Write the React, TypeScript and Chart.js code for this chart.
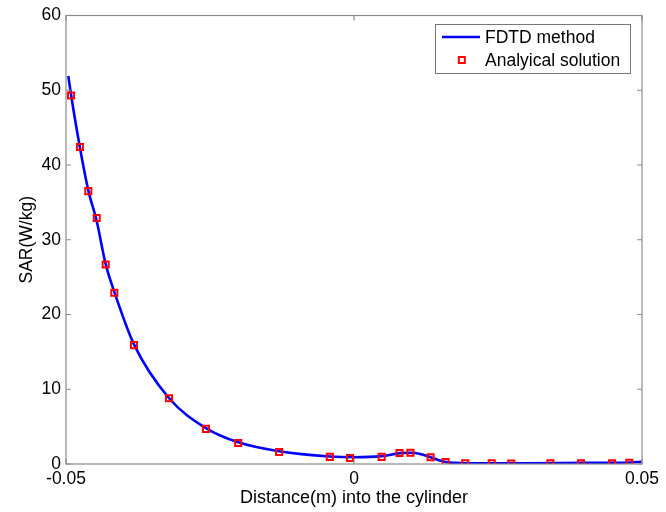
import React, { useEffect, useRef } from 'react';
import { Chart, registerables } from 'chart.js';

Chart.register(...registerables);

// FDTD curve
const fdtdX = [-0.0496, -0.0491, -0.0476, -0.0461, -0.0447, -0.0431, -0.0416, -0.0382, -0.0321, -0.0257, -0.0201, -0.013, -0.0042, 0.0, 0.0048, 0.008, 0.0098, 0.0115, 0.0133, 0.016, 0.0195, 0.024, 0.03, 0.04, 0.048, 0.05];
const fdtdY = [51.9, 49.3, 42.4, 36.5, 32.6, 26.7, 23.0, 16.0, 8.8, 4.8, 2.9, 1.7, 1.0, 0.9, 1.05, 1.45, 1.5, 1.35, 0.9, 0.25, 0.1, 0.1, 0.1, 0.15, 0.2, 0.3];

// Analytical solution markers
const anaX = [-0.04913, -0.04757, -0.04613, -0.04467, -0.04311, -0.04161, -0.0382, -0.03212, -0.0257, -0.0201, -0.013, -0.0042, -0.0007, 0.0048, 0.0079, 0.0098, 0.0133, 0.0159, 0.0193, 0.0239, 0.0273, 0.0341, 0.0394, 0.0448, 0.0478];
const anaY = [49.3, 42.4, 36.5, 32.9, 26.7, 22.9, 15.9, 8.8, 4.7, 2.8, 1.6, 0.95, 0.8, 0.95, 1.47, 1.5, 0.9, 0.27, 0.08, 0.1, 0.05, 0.08, 0.1, 0.1, 0.15];

const xTicks = [-0.05, 0, 0.05];
const yTicks = [0, 10, 20, 30, 40, 50, 60];
const seriesNames = ['FDTD method', 'Analyical solution'];
const xTitle = 'Distance(m) into the cylinder';
const yTitle = 'SAR(W/kg)';

const FONT = '"Liberation Sans", Arial, Helvetica, sans-serif';
const TEXT = '#000000';
const AXIS = '#8c8c8c';

const framePlugin = {
  id: 'matlabFrame',
  afterDatasetsDraw(chart: any) {
    const { ctx, chartArea } = chart;
    const { left, right, top, bottom } = chartArea;
    const xs = chart.scales.x;
    const ys = chart.scales.y;
    ctx.save();
    ctx.strokeStyle = AXIS;
    ctx.lineWidth = 1.2;
    ctx.strokeRect(left, top, right - left, bottom - top);
    ctx.beginPath();
    const tl = 5;
    yTicks.forEach((v) => {
      const y = ys.getPixelForValue(v);
      ctx.moveTo(left, y);
      ctx.lineTo(left + tl, y);
      ctx.moveTo(right, y);
      ctx.lineTo(right - tl, y);
    });
    xTicks.forEach((v) => {
      const x = xs.getPixelForValue(v);
      ctx.moveTo(x, bottom);
      ctx.lineTo(x, bottom - tl);
      ctx.moveTo(x, top);
      ctx.lineTo(x, top + tl);
    });
    ctx.stroke();
    ctx.restore();
  },
  afterDraw(chart: any) {
    const { ctx } = chart;
    const bx = 435, by = 24, bw = 195, bh = 49;
    ctx.save();
    ctx.fillStyle = '#ffffff';
    ctx.fillRect(bx, by, bw, bh);
    ctx.strokeStyle = '#777777';
    ctx.lineWidth = 1;
    ctx.strokeRect(bx + 0.5, by + 0.5, bw, bh);
    // line sample
    ctx.strokeStyle = '#0000ff';
    ctx.lineWidth = 2.6;
    ctx.beginPath();
    ctx.moveTo(442, 37);
    ctx.lineTo(480, 37);
    ctx.stroke();
    // marker sample
    ctx.strokeStyle = '#ff0000';
    ctx.lineWidth = 2;
    ctx.strokeRect(458.8, 57, 6, 6);
    ctx.fillStyle = TEXT;
    ctx.font = `17.5px ${FONT}`;
    ctx.textBaseline = 'middle';
    ctx.textAlign = 'left';
    ctx.fillText(seriesNames[0], 485, 38);
    ctx.fillText(seriesNames[1], 485, 61);
    ctx.restore();
  },
};

export default function App() {
  const ref = useRef<HTMLCanvasElement>(null);
  useEffect(() => {
    document.body.style.margin = '0';
    const canvas = ref.current;
    if (!canvas) return;
    const chart = new Chart(canvas, {
      type: 'scatter',
      data: {
        datasets: [
          {
            label: seriesNames[1],
            data: anaX.map((x, i) => ({ x, y: anaY[i] })),
            showLine: false,
            pointStyle: 'rect',
            pointRadius: 4.3,
            pointBorderWidth: 2,
            pointBorderColor: '#ff0000',
            pointBackgroundColor: 'rgba(255,255,255,0)',
            order: 0,
          },
          {
            label: seriesNames[0],
            data: fdtdX.map((x, i) => ({ x, y: fdtdY[i] })),
            showLine: true,
            borderColor: '#0000ff',
            borderWidth: 2.6,
            pointRadius: 0,
            cubicInterpolationMode: 'monotone',
            order: 1,
          } as any,
        ],
      },
      options: {
        animation: false,
        responsive: false,
        events: [],
        layout: { padding: { top: 15, right: 24, left: 0, bottom: 0 } },
        plugins: { legend: { display: false }, tooltip: { enabled: false } },
        scales: {
          x: {
            type: 'linear',
            min: -0.05,
            max: 0.05,
            afterBuildTicks: (s: any) => { s.ticks = xTicks.map((v) => ({ value: v })); },
            afterFit: (s: any) => { s.height = 48; },
            grid: { display: false, drawTicks: false },
            border: { display: false },
            ticks: {
              color: TEXT,
              font: { family: FONT, size: 17.5 },
              padding: 5,
              maxRotation: 0,
              callback: (v: any) => String(v),
            },
            title: {
              display: true,
              text: xTitle,
              color: TEXT,
              font: { family: FONT, size: 18 },
              padding: { top: 0, bottom: 3 },
            },
          },
          y: {
            type: 'linear',
            min: 0,
            max: 60,
            afterBuildTicks: (s: any) => { s.ticks = yTicks.map((v) => ({ value: v })); },
            afterFit: (s: any) => { s.width = 66; },
            grid: { display: false, drawTicks: false },
            border: { display: false },
            ticks: {
              color: TEXT,
              font: { family: FONT, size: 17.5 },
              padding: 5,
            },
            title: {
              display: true,
              text: yTitle,
              color: TEXT,
              font: { family: FONT, size: 17.5 },
              padding: { top: 17, bottom: 0 },
            },
          },
        },
      },
      plugins: [framePlugin],
    } as any);
    return () => chart.destroy();
  }, []);
  return (
    <div style={{ width: 666, height: 512, background: '#fff' }}>
      <canvas ref={ref} width={666} height={512} style={{ display: 'block' }} />
    </div>
  );
}
